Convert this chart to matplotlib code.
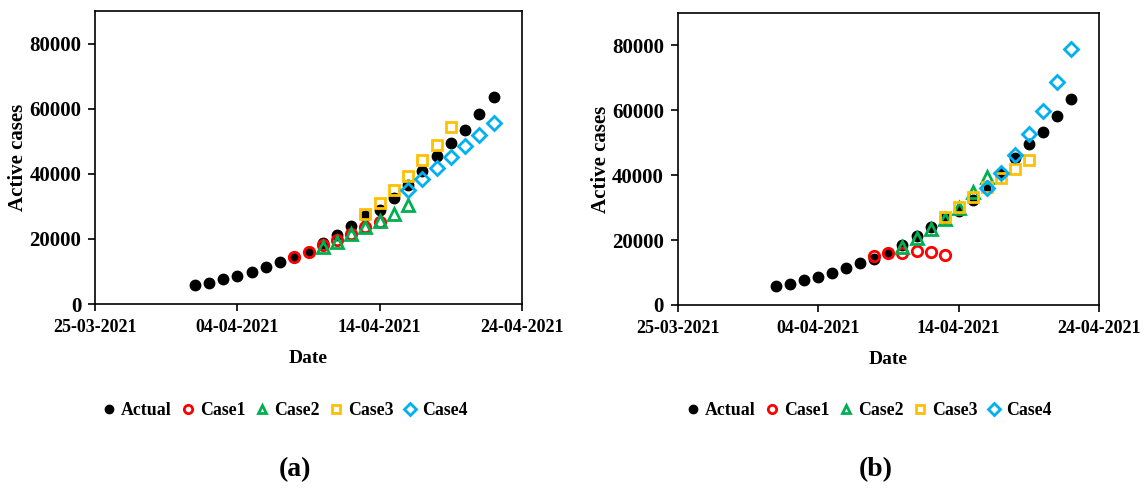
import matplotlib
matplotlib.use("Agg")
import matplotlib.pyplot as plt
import matplotlib.dates as mdates
import numpy as np
import pandas as pd

plt.rcParams['font.family'] = ['Liberation Serif', 'DejaVu Serif']
plt.rcParams['font.weight'] = 'bold'

# Observed active cases, 01-04-2021 .. 22-04-2021
actual_dates = pd.date_range("2021-04-01", "2021-04-22", freq="D")
actual = [5850, 6500, 7750, 8650, 9920, 11450, 12800, 14330, 15950, 18600,
          21350, 23900, 26950, 28900, 32450, 36700, 40800, 45400, 49550,
          53330, 58350, 63450]

# Panel (a) projections
a_case1_dates = pd.date_range("2021-04-08", periods=7, freq="D")
a_case1 = [14300, 15850, 18100, 19600, 21650, 23700, 25250]
a_case2_dates = pd.date_range("2021-04-10", periods=7, freq="D")
a_case2 = [17600, 19100, 21450, 23700, 25450, 27800, 30350]
a_case3_dates = pd.date_range("2021-04-13", periods=7, freq="D")
a_case3 = [27500, 31050, 35150, 39250, 44150, 48950, 54350]
a_case4_dates = pd.date_range("2021-04-16", periods=7, freq="D")
a_case4 = [35150, 38500, 41900, 45150, 48400, 51800, 55700]

# Panel (b) projections
b_case1_dates = pd.date_range("2021-04-08", periods=6, freq="D")
b_case1 = [15100, 16100, 16150, 16600, 16400, 15300]
b_case2_dates = pd.date_range("2021-04-10", periods=7, freq="D")
b_case2 = [17950, 20500, 23300, 26650, 29750, 34850, 39500]
b_case3_dates = pd.date_range("2021-04-13", periods=7, freq="D")
b_case3 = [27200, 30050, 33350, 36400, 39200, 42050, 44600]
b_case4_dates = pd.date_range("2021-04-16", periods=7, freq="D")
b_case4 = [36200, 40700, 46150, 52800, 59800, 68700, 79000]

x_ticks = pd.to_datetime(["2021-03-25", "2021-04-04", "2021-04-14", "2021-04-24"])
y_ticks = [0, 20000, 40000, 60000, 80000]
series_labels = ["Actual", "Case1", "Case2", "Case3", "Case4"]

RED = "#FF0000"
GREEN = "#00B050"
ORANGE = "#FFC000"
BLUE = "#00B0F0"

fig = plt.figure(figsize=(11.45, 4.88), dpi=100)
ax_a = fig.add_axes([0.0830, 0.3770, 0.3729, 0.6004])
ax_b = fig.add_axes([0.5921, 0.3750, 0.3677, 0.5984])


def draw_panel(ax, cases):
    ax.plot(actual_dates, actual, linestyle="none", marker="o", ms=7.5,
            color="black", label=series_labels[0], zorder=2)
    styles = [("o", RED, 7.5), ("^", GREEN, 8.0), ("s", ORANGE, 7.5), ("D", BLUE, 7.5)]
    for (d, v), (m, c, s), lab in zip(cases, styles, series_labels[1:]):
        ax.plot(d, v, linestyle="none", marker=m, ms=s, mfc="none", mec=c,
                mew=2.0, label=lab, zorder=3)
    ax.set_xlim(x_ticks[0], x_ticks[-1])
    ax.set_ylim(0, 90000)
    ax.set_xticks(x_ticks)
    ax.xaxis.set_major_formatter(mdates.DateFormatter("%d-%m-%Y"))
    ax.set_yticks(y_ticks)
    ax.tick_params(direction="out", length=5, width=1.2)
    ax.tick_params(axis="x", labelsize=13, pad=6)
    ax.tick_params(axis="y", labelsize=15, pad=5)
    for lbl in ax.get_xticklabels() + ax.get_yticklabels():
        lbl.set_fontweight("bold")
    for sp in ax.spines.values():
        sp.set_linewidth(1.2)
    ax.set_xlabel("Date", fontsize=14, fontweight="bold", labelpad=10)
    ax.set_ylabel("Active cases", fontsize=15, fontweight="bold", labelpad=1)


draw_panel(ax_a, [(a_case1_dates, a_case1), (a_case2_dates, a_case2),
                  (a_case3_dates, a_case3), (a_case4_dates, a_case4)])
draw_panel(ax_b, [(b_case1_dates, b_case1), (b_case2_dates, b_case2),
                  (b_case3_dates, b_case3), (b_case4_dates, b_case4)])

for ax, cx in [(ax_a, 0.249), (ax_b, 0.759)]:
    h, l = ax.get_legend_handles_labels()
    fig.legend(h, l, loc="center", bbox_to_anchor=(cx, 0.158), ncol=5,
               frameon=False, handlelength=0.7, handletextpad=0.3,
               columnspacing=0.6, prop={"size": 12.8, "weight": "bold"},
               markerscale=0.8)

fig.text(0.258, 0.038, "(a)", ha="center", va="center", fontsize=20, fontweight="bold")
fig.text(0.765, 0.038, "(b)", ha="center", va="center", fontsize=20, fontweight="bold")

fig.savefig("out.png", dpi=100)
